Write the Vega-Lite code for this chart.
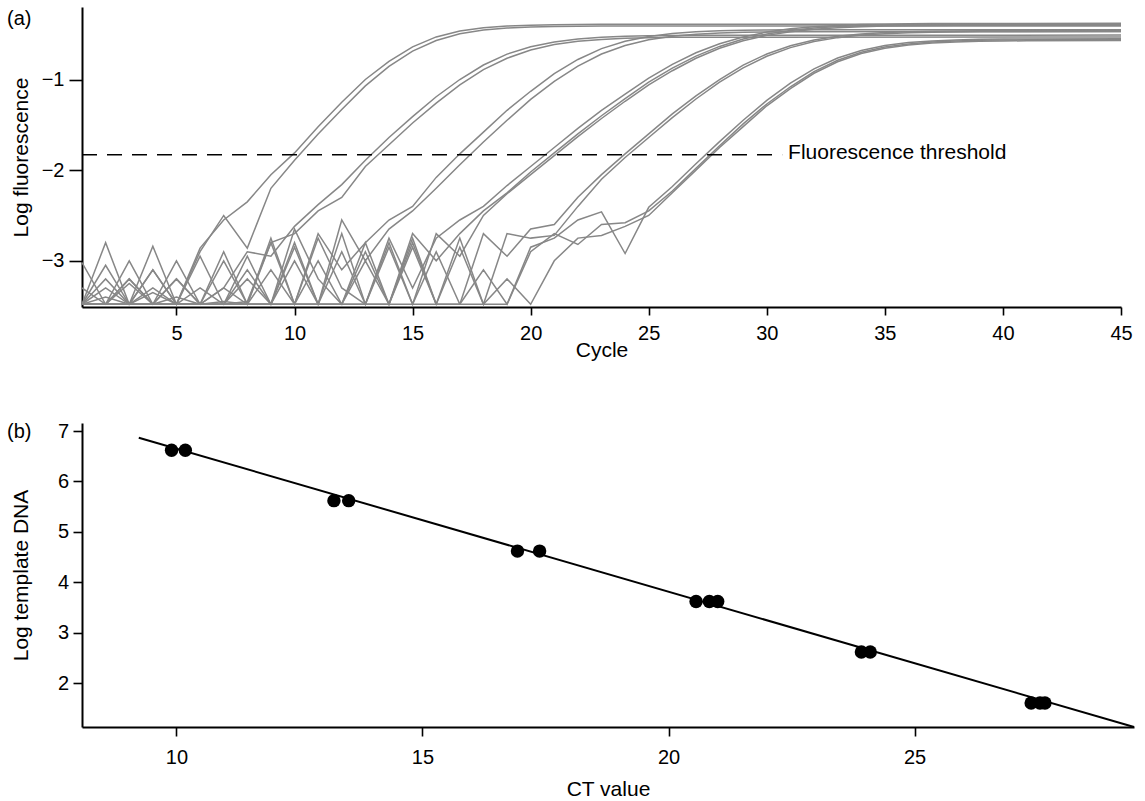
{
  "$schema": "https://vega.github.io/schema/vega-lite/v6.json",
  "background": "white",
  "padding": {"left": 7, "top": 7, "right": 4, "bottom": 0},
  "bounds": "flush",
  "spacing": 116,
  "config": {
    "view": {"stroke": null},
    "font": "Liberation Sans",
    "axis": {
      "grid": false,
      "domainColor": "black",
      "domainWidth": 2,
      "tickColor": "black",
      "tickWidth": 1.6,
      "labelColor": "black",
      "labelFont": "Liberation Sans",
      "labelFontSize": 20,
      "labelFlush": false,
      "labelOverlap": false,
      "titleFont": "Liberation Sans",
      "titleFontSize": 21,
      "titleFontWeight": "normal",
      "titleColor": "black"
    }
  },
  "vconcat": [
    {
      "width": 1039,
      "height": 300,
      "title": {"text": "(a)", "anchor": "start", "frame": "group", "orient": "top", "offset": 0, "dx": -75, "dy": 38, "baseline": "alphabetic", "fontSize": 20, "fontWeight": "normal", "font": "Liberation Sans", "color": "black"},
      "layer": [
        {
          "data": {"values": [
            {"run":"A","cycle":1,"logF":-3.02},{"run":"A","cycle":2,"logF":-3.48},{"run":"A","cycle":3,"logF":-3.48},{"run":"A","cycle":4,"logF":-2.84},{"run":"A","cycle":5,"logF":-3.48},{"run":"A","cycle":6,"logF":-2.86},{"run":"A","cycle":7,"logF":-2.55},{"run":"A","cycle":8,"logF":-2.35},{"run":"A","cycle":9,"logF":-2.05},{"run":"A","cycle":10,"logF":-1.81},{"run":"A","cycle":11,"logF":-1.52},{"run":"A","cycle":12,"logF":-1.25},{"run":"A","cycle":13,"logF":-1.0},{"run":"A","cycle":14,"logF":-0.8},{"run":"A","cycle":15,"logF":-0.64},{"run":"A","cycle":16,"logF":-0.53},{"run":"A","cycle":17,"logF":-0.466},{"run":"A","cycle":18,"logF":-0.429},{"run":"A","cycle":19,"logF":-0.41},{"run":"A","cycle":20,"logF":-0.4},{"run":"A","cycle":21,"logF":-0.395},{"run":"A","cycle":22,"logF":-0.392},{"run":"A","cycle":23,"logF":-0.391},{"run":"A","cycle":45,"logF":-0.39},
            {"run":"B","cycle":1,"logF":-3.48},{"run":"B","cycle":2,"logF":-2.8},{"run":"B","cycle":3,"logF":-3.48},{"run":"B","cycle":4,"logF":-3.3},{"run":"B","cycle":5,"logF":-3.48},{"run":"B","cycle":6,"logF":-2.9},{"run":"B","cycle":7,"logF":-2.5},{"run":"B","cycle":8,"logF":-2.86},{"run":"B","cycle":9,"logF":-2.2},{"run":"B","cycle":10,"logF":-1.89},{"run":"B","cycle":11,"logF":-1.6},{"run":"B","cycle":12,"logF":-1.33},{"run":"B","cycle":13,"logF":-1.07},{"run":"B","cycle":14,"logF":-0.856},{"run":"B","cycle":15,"logF":-0.687},{"run":"B","cycle":16,"logF":-0.569},{"run":"B","cycle":17,"logF":-0.496},{"run":"B","cycle":18,"logF":-0.455},{"run":"B","cycle":19,"logF":-0.433},{"run":"B","cycle":20,"logF":-0.422},{"run":"B","cycle":21,"logF":-0.416},{"run":"B","cycle":22,"logF":-0.413},{"run":"B","cycle":23,"logF":-0.411},{"run":"B","cycle":45,"logF":-0.41},
            {"run":"C","cycle":1,"logF":-3.48},{"run":"C","cycle":2,"logF":-3.2},{"run":"C","cycle":3,"logF":-3.48},{"run":"C","cycle":4,"logF":-3.1},{"run":"C","cycle":5,"logF":-3.48},{"run":"C","cycle":6,"logF":-3.48},{"run":"C","cycle":7,"logF":-3.3},{"run":"C","cycle":8,"logF":-2.9},{"run":"C","cycle":9,"logF":-2.95},{"run":"C","cycle":10,"logF":-2.62},{"run":"C","cycle":11,"logF":-2.38},{"run":"C","cycle":12,"logF":-2.16},{"run":"C","cycle":13,"logF":-1.89},{"run":"C","cycle":14,"logF":-1.64},{"run":"C","cycle":15,"logF":-1.41},{"run":"C","cycle":16,"logF":-1.19},{"run":"C","cycle":17,"logF":-1.0},{"run":"C","cycle":18,"logF":-0.84},{"run":"C","cycle":19,"logF":-0.72},{"run":"C","cycle":20,"logF":-0.639},{"run":"C","cycle":21,"logF":-0.586},{"run":"C","cycle":22,"logF":-0.553},{"run":"C","cycle":23,"logF":-0.534},{"run":"C","cycle":24,"logF":-0.523},{"run":"C","cycle":25,"logF":-0.517},{"run":"C","cycle":26,"logF":-0.514},{"run":"C","cycle":27,"logF":-0.512},{"run":"C","cycle":45,"logF":-0.51},
            {"run":"D","cycle":1,"logF":-3.3},{"run":"D","cycle":2,"logF":-3.48},{"run":"D","cycle":3,"logF":-3.0},{"run":"D","cycle":4,"logF":-3.48},{"run":"D","cycle":5,"logF":-3.4},{"run":"D","cycle":6,"logF":-3.48},{"run":"D","cycle":7,"logF":-2.9},{"run":"D","cycle":8,"logF":-3.48},{"run":"D","cycle":9,"logF":-2.8},{"run":"D","cycle":10,"logF":-2.7},{"run":"D","cycle":11,"logF":-2.45},{"run":"D","cycle":12,"logF":-2.3},{"run":"D","cycle":13,"logF":-1.96},{"run":"D","cycle":14,"logF":-1.72},{"run":"D","cycle":15,"logF":-1.48},{"run":"D","cycle":16,"logF":-1.26},{"run":"D","cycle":17,"logF":-1.06},{"run":"D","cycle":18,"logF":-0.89},{"run":"D","cycle":19,"logF":-0.765},{"run":"D","cycle":20,"logF":-0.674},{"run":"D","cycle":21,"logF":-0.615},{"run":"D","cycle":22,"logF":-0.579},{"run":"D","cycle":23,"logF":-0.558},{"run":"D","cycle":24,"logF":-0.546},{"run":"D","cycle":25,"logF":-0.539},{"run":"D","cycle":26,"logF":-0.535},{"run":"D","cycle":27,"logF":-0.533},{"run":"D","cycle":45,"logF":-0.53},
            {"run":"E","cycle":1,"logF":-3.48},{"run":"E","cycle":2,"logF":-3.4},{"run":"E","cycle":3,"logF":-3.48},{"run":"E","cycle":4,"logF":-3.48},{"run":"E","cycle":5,"logF":-3.2},{"run":"E","cycle":6,"logF":-3.48},{"run":"E","cycle":7,"logF":-3.45},{"run":"E","cycle":8,"logF":-3.48},{"run":"E","cycle":9,"logF":-2.75},{"run":"E","cycle":10,"logF":-3.48},{"run":"E","cycle":11,"logF":-2.7},{"run":"E","cycle":12,"logF":-3.1},{"run":"E","cycle":13,"logF":-2.8},{"run":"E","cycle":14,"logF":-2.55},{"run":"E","cycle":15,"logF":-2.4},{"run":"E","cycle":16,"logF":-2.08},{"run":"E","cycle":17,"logF":-1.82},{"run":"E","cycle":18,"logF":-1.58},{"run":"E","cycle":19,"logF":-1.34},{"run":"E","cycle":20,"logF":-1.13},{"run":"E","cycle":21,"logF":-0.935},{"run":"E","cycle":22,"logF":-0.779},{"run":"E","cycle":23,"logF":-0.659},{"run":"E","cycle":24,"logF":-0.578},{"run":"E","cycle":25,"logF":-0.525},{"run":"E","cycle":26,"logF":-0.492},{"run":"E","cycle":27,"logF":-0.474},{"run":"E","cycle":28,"logF":-0.463},{"run":"E","cycle":29,"logF":-0.457},{"run":"E","cycle":30,"logF":-0.454},{"run":"E","cycle":31,"logF":-0.452},{"run":"E","cycle":45,"logF":-0.45},
            {"run":"F","cycle":1,"logF":-3.48},{"run":"F","cycle":2,"logF":-3.48},{"run":"F","cycle":3,"logF":-3.2},{"run":"F","cycle":4,"logF":-3.48},{"run":"F","cycle":5,"logF":-3.48},{"run":"F","cycle":6,"logF":-3.3},{"run":"F","cycle":7,"logF":-3.48},{"run":"F","cycle":8,"logF":-2.95},{"run":"F","cycle":9,"logF":-3.48},{"run":"F","cycle":10,"logF":-2.8},{"run":"F","cycle":11,"logF":-3.48},{"run":"F","cycle":12,"logF":-2.55},{"run":"F","cycle":13,"logF":-3.0},{"run":"F","cycle":14,"logF":-2.65},{"run":"F","cycle":15,"logF":-2.45},{"run":"F","cycle":16,"logF":-2.2},{"run":"F","cycle":17,"logF":-1.94},{"run":"F","cycle":18,"logF":-1.69},{"run":"F","cycle":19,"logF":-1.45},{"run":"F","cycle":20,"logF":-1.22},{"run":"F","cycle":21,"logF":-1.02},{"run":"F","cycle":22,"logF":-0.852},{"run":"F","cycle":23,"logF":-0.719},{"run":"F","cycle":24,"logF":-0.624},{"run":"F","cycle":25,"logF":-0.561},{"run":"F","cycle":26,"logF":-0.522},{"run":"F","cycle":27,"logF":-0.5},{"run":"F","cycle":28,"logF":-0.487},{"run":"F","cycle":29,"logF":-0.479},{"run":"F","cycle":30,"logF":-0.475},{"run":"F","cycle":31,"logF":-0.473},{"run":"F","cycle":45,"logF":-0.47},
            {"run":"G","cycle":1,"logF":-3.48},{"run":"G","cycle":2,"logF":-3.05},{"run":"G","cycle":3,"logF":-3.48},{"run":"G","cycle":4,"logF":-3.35},{"run":"G","cycle":5,"logF":-3.48},{"run":"G","cycle":6,"logF":-2.95},{"run":"G","cycle":7,"logF":-3.48},{"run":"G","cycle":8,"logF":-3.45},{"run":"G","cycle":9,"logF":-2.8},{"run":"G","cycle":10,"logF":-3.48},{"run":"G","cycle":11,"logF":-3.48},{"run":"G","cycle":12,"logF":-2.7},{"run":"G","cycle":13,"logF":-3.48},{"run":"G","cycle":14,"logF":-2.75},{"run":"G","cycle":15,"logF":-3.3},{"run":"G","cycle":16,"logF":-2.75},{"run":"G","cycle":17,"logF":-2.55},{"run":"G","cycle":18,"logF":-2.4},{"run":"G","cycle":19,"logF":-2.17},{"run":"G","cycle":20,"logF":-1.96},{"run":"G","cycle":21,"logF":-1.75},{"run":"G","cycle":22,"logF":-1.54},{"run":"G","cycle":23,"logF":-1.34},{"run":"G","cycle":24,"logF":-1.16},{"run":"G","cycle":25,"logF":-0.985},{"run":"G","cycle":26,"logF":-0.833},{"run":"G","cycle":27,"logF":-0.705},{"run":"G","cycle":28,"logF":-0.605},{"run":"G","cycle":29,"logF":-0.53},{"run":"G","cycle":30,"logF":-0.477},{"run":"G","cycle":31,"logF":-0.441},{"run":"G","cycle":32,"logF":-0.418},{"run":"G","cycle":33,"logF":-0.403},{"run":"G","cycle":34,"logF":-0.394},{"run":"G","cycle":35,"logF":-0.389},{"run":"G","cycle":36,"logF":-0.385},{"run":"G","cycle":37,"logF":-0.383},{"run":"G","cycle":38,"logF":-0.382},{"run":"G","cycle":45,"logF":-0.38},
            {"run":"H","cycle":1,"logF":-3.48},{"run":"H","cycle":2,"logF":-3.48},{"run":"H","cycle":3,"logF":-3.25},{"run":"H","cycle":4,"logF":-3.48},{"run":"H","cycle":5,"logF":-3.48},{"run":"H","cycle":6,"logF":-3.48},{"run":"H","cycle":7,"logF":-3.3},{"run":"H","cycle":8,"logF":-3.48},{"run":"H","cycle":9,"logF":-3.48},{"run":"H","cycle":10,"logF":-2.65},{"run":"H","cycle":11,"logF":-3.2},{"run":"H","cycle":12,"logF":-3.48},{"run":"H","cycle":13,"logF":-2.8},{"run":"H","cycle":14,"logF":-3.48},{"run":"H","cycle":15,"logF":-2.7},{"run":"H","cycle":16,"logF":-3.0},{"run":"H","cycle":17,"logF":-2.7},{"run":"H","cycle":18,"logF":-2.45},{"run":"H","cycle":19,"logF":-2.25},{"run":"H","cycle":20,"logF":-2.02},{"run":"H","cycle":21,"logF":-1.81},{"run":"H","cycle":22,"logF":-1.6},{"run":"H","cycle":23,"logF":-1.4},{"run":"H","cycle":24,"logF":-1.21},{"run":"H","cycle":25,"logF":-1.03},{"run":"H","cycle":26,"logF":-0.875},{"run":"H","cycle":27,"logF":-0.742},{"run":"H","cycle":28,"logF":-0.635},{"run":"H","cycle":29,"logF":-0.554},{"run":"H","cycle":30,"logF":-0.497},{"run":"H","cycle":31,"logF":-0.458},{"run":"H","cycle":32,"logF":-0.432},{"run":"H","cycle":33,"logF":-0.416},{"run":"H","cycle":34,"logF":-0.406},{"run":"H","cycle":35,"logF":-0.4},{"run":"H","cycle":36,"logF":-0.396},{"run":"H","cycle":37,"logF":-0.394},{"run":"H","cycle":38,"logF":-0.392},{"run":"H","cycle":45,"logF":-0.39},
            {"run":"I","cycle":1,"logF":-3.48},{"run":"I","cycle":2,"logF":-3.48},{"run":"I","cycle":3,"logF":-3.48},{"run":"I","cycle":4,"logF":-3.1},{"run":"I","cycle":5,"logF":-3.48},{"run":"I","cycle":6,"logF":-3.48},{"run":"I","cycle":7,"logF":-3.48},{"run":"I","cycle":8,"logF":-3.2},{"run":"I","cycle":9,"logF":-3.48},{"run":"I","cycle":10,"logF":-3.48},{"run":"I","cycle":11,"logF":-2.75},{"run":"I","cycle":12,"logF":-3.3},{"run":"I","cycle":13,"logF":-3.48},{"run":"I","cycle":14,"logF":-2.85},{"run":"I","cycle":15,"logF":-3.48},{"run":"I","cycle":16,"logF":-2.7},{"run":"I","cycle":17,"logF":-2.95},{"run":"I","cycle":18,"logF":-2.5},{"run":"I","cycle":19,"logF":-2.26},{"run":"I","cycle":20,"logF":-2.05},{"run":"I","cycle":21,"logF":-1.84},{"run":"I","cycle":22,"logF":-1.63},{"run":"I","cycle":23,"logF":-1.43},{"run":"I","cycle":24,"logF":-1.24},{"run":"I","cycle":25,"logF":-1.06},{"run":"I","cycle":26,"logF":-0.903},{"run":"I","cycle":27,"logF":-0.766},{"run":"I","cycle":28,"logF":-0.656},{"run":"I","cycle":29,"logF":-0.573},{"run":"I","cycle":30,"logF":-0.513},{"run":"I","cycle":31,"logF":-0.472},{"run":"I","cycle":32,"logF":-0.445},{"run":"I","cycle":33,"logF":-0.428},{"run":"I","cycle":34,"logF":-0.417},{"run":"I","cycle":35,"logF":-0.41},{"run":"I","cycle":36,"logF":-0.406},{"run":"I","cycle":37,"logF":-0.404},{"run":"I","cycle":38,"logF":-0.402},{"run":"I","cycle":45,"logF":-0.4},
            {"run":"J","cycle":1,"logF":-3.48},{"run":"J","cycle":2,"logF":-3.48},{"run":"J","cycle":3,"logF":-3.48},{"run":"J","cycle":4,"logF":-3.48},{"run":"J","cycle":5,"logF":-3.0},{"run":"J","cycle":6,"logF":-3.48},{"run":"J","cycle":7,"logF":-3.48},{"run":"J","cycle":8,"logF":-3.48},{"run":"J","cycle":9,"logF":-3.48},{"run":"J","cycle":10,"logF":-2.85},{"run":"J","cycle":11,"logF":-3.48},{"run":"J","cycle":12,"logF":-3.48},{"run":"J","cycle":13,"logF":-2.9},{"run":"J","cycle":14,"logF":-3.48},{"run":"J","cycle":15,"logF":-2.75},{"run":"J","cycle":16,"logF":-3.48},{"run":"J","cycle":17,"logF":-3.48},{"run":"J","cycle":18,"logF":-2.7},{"run":"J","cycle":19,"logF":-2.95},{"run":"J","cycle":20,"logF":-2.65},{"run":"J","cycle":21,"logF":-2.6},{"run":"J","cycle":22,"logF":-2.3},{"run":"J","cycle":23,"logF":-2.05},{"run":"J","cycle":24,"logF":-1.82},{"run":"J","cycle":25,"logF":-1.6},{"run":"J","cycle":26,"logF":-1.38},{"run":"J","cycle":27,"logF":-1.18},{"run":"J","cycle":28,"logF":-1.0},{"run":"J","cycle":29,"logF":-0.842},{"run":"J","cycle":30,"logF":-0.718},{"run":"J","cycle":31,"logF":-0.627},{"run":"J","cycle":32,"logF":-0.564},{"run":"J","cycle":33,"logF":-0.523},{"run":"J","cycle":34,"logF":-0.498},{"run":"J","cycle":35,"logF":-0.482},{"run":"J","cycle":36,"logF":-0.473},{"run":"J","cycle":37,"logF":-0.467},{"run":"J","cycle":38,"logF":-0.464},{"run":"J","cycle":39,"logF":-0.462},{"run":"J","cycle":45,"logF":-0.46},
            {"run":"K","cycle":1,"logF":-3.48},{"run":"K","cycle":2,"logF":-3.3},{"run":"K","cycle":3,"logF":-3.48},{"run":"K","cycle":4,"logF":-3.48},{"run":"K","cycle":5,"logF":-3.48},{"run":"K","cycle":6,"logF":-3.48},{"run":"K","cycle":7,"logF":-3.0},{"run":"K","cycle":8,"logF":-3.48},{"run":"K","cycle":9,"logF":-3.48},{"run":"K","cycle":10,"logF":-3.48},{"run":"K","cycle":11,"logF":-3.0},{"run":"K","cycle":12,"logF":-3.48},{"run":"K","cycle":13,"logF":-3.48},{"run":"K","cycle":14,"logF":-2.8},{"run":"K","cycle":15,"logF":-3.48},{"run":"K","cycle":16,"logF":-3.48},{"run":"K","cycle":17,"logF":-2.85},{"run":"K","cycle":18,"logF":-3.48},{"run":"K","cycle":19,"logF":-2.7},{"run":"K","cycle":20,"logF":-2.75},{"run":"K","cycle":21,"logF":-2.72},{"run":"K","cycle":22,"logF":-2.4},{"run":"K","cycle":23,"logF":-2.1},{"run":"K","cycle":24,"logF":-1.86},{"run":"K","cycle":25,"logF":-1.64},{"run":"K","cycle":26,"logF":-1.42},{"run":"K","cycle":27,"logF":-1.215},{"run":"K","cycle":28,"logF":-1.03},{"run":"K","cycle":29,"logF":-0.872},{"run":"K","cycle":30,"logF":-0.744},{"run":"K","cycle":31,"logF":-0.648},{"run":"K","cycle":32,"logF":-0.581},{"run":"K","cycle":33,"logF":-0.538},{"run":"K","cycle":34,"logF":-0.51},{"run":"K","cycle":35,"logF":-0.494},{"run":"K","cycle":36,"logF":-0.484},{"run":"K","cycle":37,"logF":-0.478},{"run":"K","cycle":38,"logF":-0.475},{"run":"K","cycle":39,"logF":-0.473},{"run":"K","cycle":45,"logF":-0.47},
            {"run":"L","cycle":1,"logF":-3.48},{"run":"L","cycle":2,"logF":-3.48},{"run":"L","cycle":3,"logF":-3.2},{"run":"L","cycle":4,"logF":-3.48},{"run":"L","cycle":5,"logF":-3.48},{"run":"L","cycle":6,"logF":-3.48},{"run":"L","cycle":7,"logF":-3.48},{"run":"L","cycle":8,"logF":-3.1},{"run":"L","cycle":9,"logF":-3.48},{"run":"L","cycle":10,"logF":-3.48},{"run":"L","cycle":11,"logF":-3.48},{"run":"L","cycle":12,"logF":-2.9},{"run":"L","cycle":13,"logF":-3.48},{"run":"L","cycle":14,"logF":-3.48},{"run":"L","cycle":15,"logF":-2.85},{"run":"L","cycle":16,"logF":-3.48},{"run":"L","cycle":17,"logF":-2.75},{"run":"L","cycle":18,"logF":-3.48},{"run":"L","cycle":19,"logF":-3.48},{"run":"L","cycle":20,"logF":-2.85},{"run":"L","cycle":21,"logF":-2.75},{"run":"L","cycle":22,"logF":-2.55},{"run":"L","cycle":23,"logF":-2.46},{"run":"L","cycle":24,"logF":-2.92},{"run":"L","cycle":25,"logF":-2.41},{"run":"L","cycle":26,"logF":-2.18},{"run":"L","cycle":27,"logF":-1.93},{"run":"L","cycle":28,"logF":-1.685},{"run":"L","cycle":29,"logF":-1.45},{"run":"L","cycle":30,"logF":-1.23},{"run":"L","cycle":31,"logF":-1.04},{"run":"L","cycle":32,"logF":-0.883},{"run":"L","cycle":33,"logF":-0.763},{"run":"L","cycle":34,"logF":-0.68},{"run":"L","cycle":35,"logF":-0.626},{"run":"L","cycle":36,"logF":-0.593},{"run":"L","cycle":37,"logF":-0.574},{"run":"L","cycle":38,"logF":-0.563},{"run":"L","cycle":39,"logF":-0.557},{"run":"L","cycle":40,"logF":-0.554},{"run":"L","cycle":41,"logF":-0.552},{"run":"L","cycle":45,"logF":-0.55},
            {"run":"M","cycle":1,"logF":-3.48},{"run":"M","cycle":2,"logF":-3.48},{"run":"M","cycle":3,"logF":-3.48},{"run":"M","cycle":4,"logF":-3.48},{"run":"M","cycle":5,"logF":-3.2},{"run":"M","cycle":6,"logF":-3.48},{"run":"M","cycle":7,"logF":-3.48},{"run":"M","cycle":8,"logF":-3.48},{"run":"M","cycle":9,"logF":-3.48},{"run":"M","cycle":10,"logF":-3.0},{"run":"M","cycle":11,"logF":-3.48},{"run":"M","cycle":12,"logF":-3.48},{"run":"M","cycle":13,"logF":-3.48},{"run":"M","cycle":14,"logF":-3.48},{"run":"M","cycle":15,"logF":-2.8},{"run":"M","cycle":16,"logF":-3.48},{"run":"M","cycle":17,"logF":-3.48},{"run":"M","cycle":18,"logF":-3.1},{"run":"M","cycle":19,"logF":-3.48},{"run":"M","cycle":20,"logF":-2.9},{"run":"M","cycle":21,"logF":-2.7},{"run":"M","cycle":22,"logF":-2.82},{"run":"M","cycle":23,"logF":-2.6},{"run":"M","cycle":24,"logF":-2.58},{"run":"M","cycle":25,"logF":-2.45},{"run":"M","cycle":26,"logF":-2.23},{"run":"M","cycle":27,"logF":-1.98},{"run":"M","cycle":28,"logF":-1.73},{"run":"M","cycle":29,"logF":-1.49},{"run":"M","cycle":30,"logF":-1.27},{"run":"M","cycle":31,"logF":-1.08},{"run":"M","cycle":32,"logF":-0.912},{"run":"M","cycle":33,"logF":-0.788},{"run":"M","cycle":34,"logF":-0.699},{"run":"M","cycle":35,"logF":-0.642},{"run":"M","cycle":36,"logF":-0.607},{"run":"M","cycle":37,"logF":-0.586},{"run":"M","cycle":38,"logF":-0.575},{"run":"M","cycle":39,"logF":-0.568},{"run":"M","cycle":40,"logF":-0.564},{"run":"M","cycle":41,"logF":-0.562},{"run":"M","cycle":45,"logF":-0.56},
            {"run":"N","cycle":1,"logF":-3.48},{"run":"N","cycle":2,"logF":-3.48},{"run":"N","cycle":3,"logF":-3.48},{"run":"N","cycle":4,"logF":-3.48},{"run":"N","cycle":5,"logF":-3.48},{"run":"N","cycle":6,"logF":-3.48},{"run":"N","cycle":7,"logF":-3.48},{"run":"N","cycle":8,"logF":-3.48},{"run":"N","cycle":9,"logF":-3.1},{"run":"N","cycle":10,"logF":-3.48},{"run":"N","cycle":11,"logF":-3.48},{"run":"N","cycle":12,"logF":-3.48},{"run":"N","cycle":13,"logF":-3.0},{"run":"N","cycle":14,"logF":-3.48},{"run":"N","cycle":15,"logF":-3.48},{"run":"N","cycle":16,"logF":-2.9},{"run":"N","cycle":17,"logF":-3.48},{"run":"N","cycle":18,"logF":-3.48},{"run":"N","cycle":19,"logF":-3.2},{"run":"N","cycle":20,"logF":-3.48},{"run":"N","cycle":21,"logF":-3.0},{"run":"N","cycle":22,"logF":-2.75},{"run":"N","cycle":23,"logF":-2.72},{"run":"N","cycle":24,"logF":-2.62},{"run":"N","cycle":25,"logF":-2.5},{"run":"N","cycle":26,"logF":-2.25},{"run":"N","cycle":27,"logF":-2.0},{"run":"N","cycle":28,"logF":-1.75},{"run":"N","cycle":29,"logF":-1.52},{"run":"N","cycle":30,"logF":-1.29},{"run":"N","cycle":31,"logF":-1.1},{"run":"N","cycle":32,"logF":-0.931},{"run":"N","cycle":33,"logF":-0.804},{"run":"N","cycle":34,"logF":-0.714},{"run":"N","cycle":35,"logF":-0.655},{"run":"N","cycle":36,"logF":-0.619},{"run":"N","cycle":37,"logF":-0.597},{"run":"N","cycle":38,"logF":-0.585},{"run":"N","cycle":39,"logF":-0.578},{"run":"N","cycle":40,"logF":-0.575},{"run":"N","cycle":41,"logF":-0.573},{"run":"N","cycle":45,"logF":-0.57}
          ]},
          "mark": {"type": "line", "stroke": "#878787", "strokeWidth": 1.5, "clip": true},
          "encoding": {
            "x": {"field": "cycle", "type": "quantitative", "title": "Cycle",
                  "scale": {"domain": [1, 45], "nice": false, "zero": false},
                  "axis": {"values": [5, 10, 15, 20, 25, 30, 35, 40, 45], "tickSize": 8, "labelPadding": 8.4, "titlePadding": -4}},
            "y": {"field": "logF", "type": "quantitative", "title": "Log fluorescence",
                  "scale": {"domain": [-3.51, -0.2], "nice": false, "zero": false},
                  "axis": {"values": [-3, -2, -1], "format": "d", "tickSize": 13, "labelPadding": 5, "titlePadding": 10}},
            "detail": {"field": "run"}
          }
        },
        {
          "data": {"values": [{"cycle": 1, "cycle2": 30.65, "logF": -1.83}]},
          "mark": {"type": "rule", "color": "black", "strokeWidth": 1.6, "strokeDash": [15, 10]},
          "encoding": {
            "x": {"field": "cycle", "type": "quantitative", "title": "Cycle"},
            "x2": {"field": "cycle2"},
            "y": {"field": "logF", "type": "quantitative", "title": "Log fluorescence"}
          }
        },
        {
          "data": {"values": [{"cycle": 30.9, "logF": -1.83, "label": "Fluorescence threshold"}]},
          "mark": {"type": "text", "align": "left", "baseline": "middle", "fontSize": 21, "font": "Liberation Sans", "color": "black", "dy": -2},
          "encoding": {
            "x": {"field": "cycle", "type": "quantitative", "title": "Cycle"},
            "y": {"field": "logF", "type": "quantitative", "title": "Log fluorescence"},
            "text": {"field": "label"}
          }
        }
      ]
    },
    {
      "width": 1052,
      "height": 304,
      "title": {"text": "(b)", "anchor": "start", "frame": "group", "orient": "top", "offset": 0, "dx": -75, "dy": 37, "baseline": "alphabetic", "fontSize": 20, "fontWeight": "normal", "font": "Liberation Sans", "color": "black"},
      "layer": [
        {
          "data": {"values": [{"ct": 9.234, "logDNA": 6.867}, {"ct": 29.46, "logDNA": 1.134}]},
          "mark": {"type": "line", "color": "black", "strokeWidth": 2},
          "encoding": {
            "x": {"field": "ct", "type": "quantitative", "title": "CT value",
                  "scale": {"domain": [8.08, 29.46], "nice": false, "zero": false},
                  "axis": {"values": [10, 15, 20, 25], "tickSize": 9, "labelPadding": 11.4, "titlePadding": 11.5}},
            "y": {"field": "logDNA", "type": "quantitative", "title": "Log template DNA",
                  "scale": {"domain": [1.134, 7.159], "nice": false, "zero": false},
                  "axis": {"values": [2, 3, 4, 5, 6, 7], "tickSize": 9, "labelPadding": 4.5, "titlePadding": 25.5}}
          }
        },
        {
          "data": {"values": [
            {"ct": 9.9, "logDNA": 6.62}, {"ct": 10.18, "logDNA": 6.62},
            {"ct": 13.2, "logDNA": 5.62}, {"ct": 13.5, "logDNA": 5.62},
            {"ct": 16.93, "logDNA": 4.62}, {"ct": 17.38, "logDNA": 4.62},
            {"ct": 20.56, "logDNA": 3.62}, {"ct": 20.83, "logDNA": 3.62}, {"ct": 21.0, "logDNA": 3.62},
            {"ct": 23.92, "logDNA": 2.62}, {"ct": 24.1, "logDNA": 2.62},
            {"ct": 27.37, "logDNA": 1.61}, {"ct": 27.55, "logDNA": 1.61}, {"ct": 27.65, "logDNA": 1.61}
          ]},
          "mark": {"type": "point", "filled": true, "color": "black", "opacity": 1, "size": 180},
          "encoding": {
            "x": {"field": "ct", "type": "quantitative", "title": "CT value"},
            "y": {"field": "logDNA", "type": "quantitative", "title": "Log template DNA"}
          }
        }
      ]
    }
  ]
}
